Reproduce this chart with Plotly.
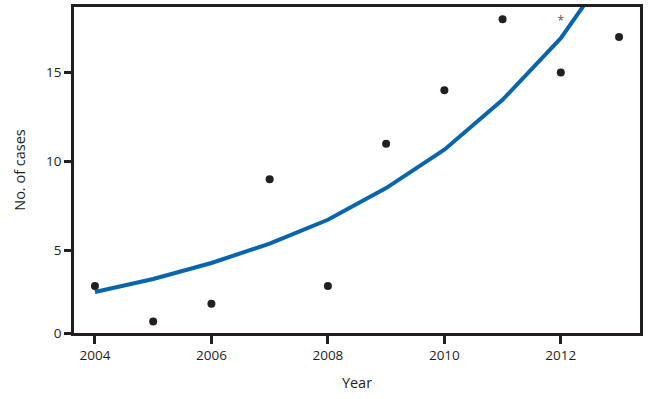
import plotly.graph_objects as go

years = [2004, 2005, 2006, 2007, 2008, 2009, 2010, 2011, 2012, 2013]
cases = [3, 1, 2, 9, 3, 11, 14, 18, 15, 17]
trend = [2.66, 3.39, 4.29, 5.38, 6.72, 8.5, 10.66, 13.47, 16.94, 21.6]
asterisk_year = [2012]
asterisk_value = [17.85]
x_ticks = [2004, 2006, 2008, 2010, 2012]
y_tick_labels = ["0", "5", "10", "15"]
y_tick_values = [0, 5, 10, 15]

Y_BOTTOM = 0.35
Y_TOP = 18.69
ink = "#231f20"
font = "Open Sans"

fig = go.Figure()
fig.add_trace(go.Scatter(x=years, y=trend, mode="lines",
                         line=dict(color="#0765ad", width=4), cliponaxis=True,
                         showlegend=False, hoverinfo="skip"))
fig.add_trace(go.Scatter(x=years, y=cases, mode="markers",
                         marker=dict(color=ink, size=8), showlegend=False,
                         cliponaxis=False))
fig.add_trace(go.Scatter(x=asterisk_year, y=asterisk_value, mode="text", text=["*"],
                         textfont=dict(size=12, color="#5a5048", family=font),
                         textposition="middle center", showlegend=False))

tickpos = [Y_BOTTOM if v == 0 else v for v in y_tick_values]

fig.update_layout(
    width=649, height=399,
    margin=dict(l=74, r=9, t=7, b=65.5),
    plot_bgcolor="white", paper_bgcolor="white",
    font=dict(family=font, size=13.5, color=ink),
    xaxis=dict(range=[2003.64, 2013.36], tickvals=x_ticks, automargin=False,
               ticks="outside", ticklen=8, tickwidth=2.5, tickcolor=ink,
               showline=True, linecolor=ink, linewidth=2.5, mirror=True,
               showgrid=False, zeroline=False,
               title=dict(text="Year", font=dict(size=14.5), standoff=15)),
    yaxis=dict(range=[Y_BOTTOM, Y_TOP], tickvals=tickpos, ticktext=y_tick_labels,
               automargin=False,
               ticks="outside", ticklen=7, tickwidth=2.5, tickcolor=ink,
               showline=True, linecolor=ink, linewidth=2.5, mirror=True,
               showgrid=False, zeroline=False,
               title=dict(text="No. of cases", font=dict(size=14.5), standoff=18)),
)

fig.write_html("out.html", config={"displayModeBar": False},
               post_script="document.body.style.margin='0';document.body.style.overflow='hidden';")
